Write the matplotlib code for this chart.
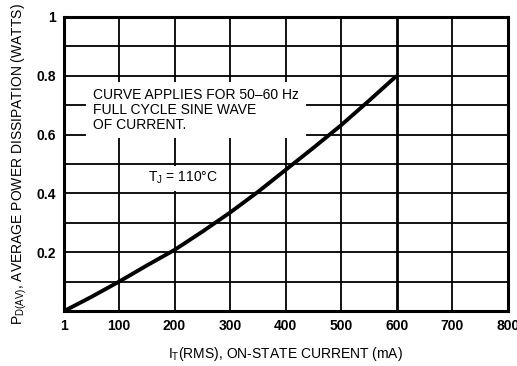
import matplotlib
matplotlib.use("Agg")
import matplotlib.pyplot as plt
from matplotlib import font_manager

names = {f.name for f in font_manager.fontManager.ttflist}
fam = "Liberation Sans Narrow" if "Liberation Sans Narrow" in names else "Liberation Sans"
plt.rcParams['font.family'] = [fam, 'DejaVu Sans']

current_ma = [1, 50, 100, 150, 200, 250, 300, 350, 400, 450, 500, 550, 600]
power_w = [0.0, 0.048, 0.1, 0.155, 0.208, 0.27, 0.335, 0.405, 0.48, 0.555, 0.632, 0.715, 0.8]
x_ticks = [1, 100, 200, 300, 400, 500, 600, 700, 800]
x_tick_labels = ["1", "100", "200", "300", "400", "500", "600", "700", "800"]
y_ticks = [0.2, 0.4, 0.6, 0.8, 1.0]
y_tick_labels = ["0.2", "0.4", "0.6", "0.8", "1"]

fig = plt.figure(figsize=(5.17, 3.66), dpi=100)
ax = fig.add_axes([0.1238, 0.150, 0.982 - 0.1238, 0.9536 - 0.150])
ax.set_xlim(1, 800)
ax.set_ylim(0, 1)

for xv in [100, 200, 300, 400, 500, 600, 700]:
    ax.axvline(xv, color='black', lw=2.0 if xv == 600 else 1.3, zorder=1)
for yv in [0.1, 0.2, 0.3, 0.4, 0.5, 0.6, 0.7, 0.8, 0.9]:
    ax.axhline(yv, color='black', lw=1.3, zorder=1)

ax.plot(current_ma, power_w, color='black', lw=2.8, zorder=5, solid_capstyle='butt')

ax.text(53, 0.757, "CURVE APPLIES FOR 50–60 Hz\nFULL CYCLE SINE WAVE\nOF CURRENT.",
        fontsize=10, va='top', ha='left', linespacing=1.05, zorder=3,
        bbox=dict(facecolor='white', edgecolor='none', pad=5))
ax.text(153, 0.452, r"T$_\mathregular{J}$ = 110°C", fontsize=10, va='center', ha='left', zorder=3,
        bbox=dict(facecolor='white', edgecolor='none', pad=3))

for s in ax.spines.values():
    s.set_linewidth(2.2)

ax.set_xticks(x_ticks)
ax.set_xticklabels(x_tick_labels, fontsize=10, fontweight='bold')
ax.set_yticks(y_ticks)
ax.set_yticklabels(y_tick_labels, fontsize=10, fontweight='bold')
ax.tick_params(length=0, pad=6)

ax.set_xlabel(r"I$_\mathregular{T}$(RMS), ON-STATE CURRENT (mA)", fontsize=10, labelpad=8)
ax.set_ylabel(r"P$_\mathregular{D(AV)}$, AVERAGE POWER DISSIPATION (WATTS)", fontsize=10, labelpad=5)

fig.savefig("out.png", dpi=100)
